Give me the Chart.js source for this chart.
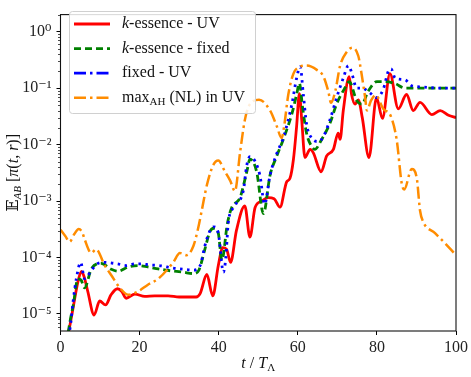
<!DOCTYPE html>
<html>
<head>
<meta charset="utf-8">
<script src="https://cdn.jsdelivr.net/npm/chart.js@4.4.1/dist/chart.umd.min.js"></script>
<style>
  body { margin: 0; background: #fff; }
  canvas { display: block; }
</style>
</head>
<body>
<canvas id="chart" width="471" height="377"></canvas>
<script>
// values (t / T_Lambda, E_AB)
const kUvTime = [1.5, 2.5, 3.2, 4.4, 5.3, 6.0, 6.9, 8.5, 9.9, 11.4, 12.8, 14.4, 15.5, 16.6, 18.8, 21.3, 23.8, 27.2, 30, 34.3, 35.3, 37, 38.5, 39.9, 41, 42, 43, 44.5, 46.6, 47.9, 49.2, 50.9, 52.5, 54, 55.5, 57.2, 58.0, 58.9, 59.7, 60.4, 61.0, 61.8, 63.1, 63.9, 65.9, 67.3, 69.0, 70.2, 70.7, 71.5, 73.0, 73.6, 74.5, 75.3, 76.3, 78.0, 79.9, 81.4, 83.3, 85.4, 87.5, 89.2, 90.9, 93.9, 96.0, 98.1, 100];
const kUvValue = [3e-6, 7e-6, 1.3e-5, 3.7e-5, 5.7e-5, 4.5e-5, 2.5e-5, 9.6e-6, 1.7e-5, 1.45e-5, 2.2e-5, 2.8e-5, 2.5e-5, 1.9e-5, 2.25e-5, 2.05e-5, 2.1e-5, 2.1e-5, 2.0e-5, 2.0e-5, 2.3e-5, 5e-5, 2.1e-5, 7.2e-5, 1.5e-4, 1.4e-4, 8.2e-5, 3.05e-4, 8.2e-4, 2.3e-4, 7.7e-4, 1.0e-3, 1.15e-3, 1.1e-3, 7.8e-4, 2.2e-3, 2.5e-3, 5.5e-3, 0.021, 0.08, 0.027, 5.9e-3, 8.2e-3, 7.2e-3, 3.3e-3, 6.3e-3, 8.2e-3, 0.016, 0.0124, 0.04, 0.16, 0.077, 0.052, 0.062, 0.03, 5.9e-3, 0.068, 0.029, 0.18, 0.043, 0.077, 0.04, 0.056, 0.034, 0.04, 0.033, 0.03];

const kFixedTime = [1.5, 2.5, 3.2, 4.4, 5.2, 6.1, 7.8, 10.3, 12.8, 14.5, 17.1, 19.6, 22.1, 24.7, 27.2, 31, 33.6, 35, 36.5, 37.8, 38.8, 39.9, 40.8, 42.2, 43.3, 45.4, 47.1, 47.9, 49.6, 51.3, 53, 54.7, 56.3, 58.5, 59.7, 60.4, 61.2, 62.2, 63.5, 64.3, 66, 68.1, 69.8, 71.9, 73, 74.9, 76.2, 77.8, 80, 82, 84.6, 87.1, 91.3, 100];
const kFixedValue = [3e-6, 8e-6, 1.4e-5, 4.2e-5, 4.0e-5, 2.9e-5, 6.3e-5, 7.9e-5, 6.2e-5, 5.7e-5, 6.8e-5, 7.2e-5, 6.8e-5, 6.3e-5, 5.9e-5, 5.5e-5, 5.2e-5, 6e-5, 1.4e-4, 2.9e-4, 3.3e-4, 2.7e-4, 9e-5, 4e-4, 7.7e-4, 1.15e-3, 3.3e-3, 5.5e-3, 3.3e-3, 6e-4, 2.9e-3, 6.3e-3, 0.0122, 0.035, 0.077, 0.122, 0.046, 0.016, 9.3e-3, 8.2e-3, 0.0122, 0.0235, 0.052, 0.1, 0.13, 0.06, 0.052, 0.088, 0.13, 0.13, 0.12, 0.1, 0.1, 0.1];

const fixedUvTime = [1.8, 2.6, 3.2, 4.0, 5.1, 6.1, 7.8, 9.3, 11.2, 14.4, 16.6, 18.8, 20.6, 22.5, 25, 28.5, 31, 33.6, 35.3, 36.5, 37.8, 38.8, 39.9, 41.2, 41.8, 42.4, 43.7, 46.2, 47.1, 47.9, 50.4, 51.6, 53, 54.7, 56.3, 58.5, 59.7, 60.6, 61.4, 62.2, 63.5, 65.2, 66.5, 68.1, 69.8, 71.5, 72.8, 73.6, 74.9, 76.2, 78, 79.9, 81.6, 82.9, 83.6, 84.6, 87.1, 88.8, 91.3, 95.5, 100];
const fixedUvValue = [3e-6, 7e-6, 1.7e-5, 4.2e-5, 8.2e-5, 4.2e-5, 5.9e-5, 7.7e-5, 8.2e-5, 7.7e-5, 7.2e-5, 7.7e-5, 7.7e-5, 7.4e-5, 7.2e-5, 6.5e-5, 6.2e-5, 6e-5, 7.2e-5, 1.6e-4, 3e-4, 3.5e-4, 2.7e-4, 5.5e-5, 1e-4, 4e-4, 7.7e-4, 1.5e-3, 4.3e-3, 6.1e-3, 2.9e-3, 8.8e-4, 2.9e-3, 7e-3, 0.013, 0.052, 0.15, 0.24, 0.077, 0.0235, 0.013, 0.0113, 0.014, 0.027, 0.067, 0.15, 0.25, 0.19, 0.1, 0.1, 0.085, 0.068, 0.095, 0.2, 0.22, 0.15, 0.14, 0.11, 0.105, 0.1, 0.1];

const maxAhTime = [0, 1.2, 2.3, 3.5, 4.6, 5.5, 6.1, 7.8, 9, 11.2, 12.8, 15, 17.1, 19.6, 22.1, 24.7, 28.5, 30.2, 31.9, 33.6, 34.8, 35.7, 37, 38.6, 39.9, 41.6, 42.9, 44.1, 45.4, 46.6, 47.9, 50.2, 53, 54.7, 55.9, 56.5, 57.6, 58.9, 60.6, 62.2, 64.8, 66.5, 67.7, 68.4, 69.5, 70.7, 72.4, 73.8, 75.3, 76.2, 77, 77.5, 78.5, 79.7, 81.6, 83.5, 85, 86.3, 86.9, 88.8, 90.1, 90.9, 91.7, 94.7, 97.2, 99.5];
const maxAhValue = [3.1e-4, 2.4e-4, 1.9e-4, 2.6e-4, 3.2e-4, 2.8e-4, 2.1e-4, 1.2e-4, 1.4e-4, 7.2e-5, 4.9e-5, 2.9e-5, 2.2e-5, 2.5e-5, 3.3e-5, 4.2e-5, 8.2e-5, 1.2e-4, 1.1e-4, 1.6e-4, 3.3e-4, 6.7e-4, 1.9e-3, 4.3e-3, 5.2e-3, 3.3e-3, 2.3e-3, 1.5e-3, 7.2e-3, 0.027, 0.052, 0.062, 0.04, 0.021, 0.013, 0.02, 0.077, 0.18, 0.24, 0.25, 0.21, 0.16, 0.088, 0.055, 0.09, 0.25, 0.44, 0.52, 0.37, 0.165, 0.07, 0.04, 0.06, 0.075, 0.043, 0.032, 0.0122, 2e-3, 1.6e-3, 3.7e-3, 2.5e-3, 6.8e-4, 4.3e-4, 2.7e-4, 1.8e-4, 1.2e-4];

const xTicks = [0, 20, 40, 60, 80, 100];
const yTicks = [1e-5, 1e-4, 1e-3, 1e-2, 1e-1, 1];

const SERIF = '"Liberation Serif", "DejaVu Serif", serif';
const SUP = { '-': '\u207B', '0': '\u2070', '1': '\u00B9', '2': '\u00B2', '3': '\u00B3', '4': '\u2074', '5': '\u2075', '6': '\u2076', '7': '\u2077', '8': '\u2078', '9': '\u2079' };

function toPoints(ts, vs) {
    return ts.map((t, i) => ({ x: t, y: vs[i] }));
}

function powLabel(v) {
    const e = String(Math.round(Math.log10(v)));
    return '10' + e.split('').map(c => SUP[c]).join('');
}

// draws a run of text pieces with different fonts one after the other
function drawParts(ctx, parts, x, y, align) {
    let total = 0;
    parts.forEach(p => {
        ctx.font = p.font;
        p.w = ctx.measureText(p.text).width;
        total += p.w;
    });
    let cx = align === 'center' ? x - total / 2 : x;
    parts.forEach(p => {
        ctx.font = p.font;
        ctx.fillText(p.text, cx, y + (p.dy || 0));
        cx += p.w;
    });
}

const rm = '16px ' + SERIF;
const it = 'italic 16px ' + SERIF;
const sub = '11px ' + SERIF;
const subIt = 'italic 11px ' + SERIF;

const legendLabels = [
    [{ text: 'k', font: it }, { text: '-essence - UV', font: rm }],
    [{ text: 'k', font: it }, { text: '-essence - fixed', font: rm }],
    [{ text: 'fixed - UV', font: rm }],
    [{ text: 'max', font: rm }, { text: 'AH', font: sub, dy: 4 }, { text: ' (NL) in UV', font: rm }]
];
const legendDash = [[], [7, 4], [12, 4, 2.5, 4], [12, 4, 2.5, 4]];

const decorPlugin = {
    id: 'decor',
    afterDatasetsDraw(chart) {
        const ctx = chart.ctx;
        const a = chart.chartArea;
        const y = chart.scales.y;
        ctx.save();
        // minor log ticks
        ctx.strokeStyle = '#000';
        ctx.lineWidth = 0.7;
        for (let n = -6; n <= 0; n++) {
            for (let k = 2; k <= 9; k++) {
                const v = k * Math.pow(10, n);
                if (v < y.min || v > y.max) continue;
                const py = Math.round(y.getPixelForValue(v)) + 0.5;
                ctx.beginPath();
                ctx.moveTo(a.left - 2.5, py);
                ctx.lineTo(a.left, py);
                ctx.stroke();
            }
        }
        // frame
        ctx.strokeStyle = '#111';
        ctx.lineWidth = 1.1;
        ctx.strokeRect(a.left, a.top, a.right - a.left, a.bottom - a.top);

        // axis titles
        ctx.fillStyle = '#111';
        ctx.textBaseline = 'alphabetic';
        drawParts(ctx, [
            { text: 't', font: it },
            { text: ' / ', font: rm },
            { text: 'T', font: it },
            { text: '\u039B', font: sub, dy: 3 }
        ], (a.left + a.right) / 2, 368, 'center');

        ctx.save();
        ctx.translate(18, (a.top + a.bottom) / 2);
        ctx.rotate(-Math.PI / 2);
        drawParts(ctx, [
            { text: '\uD835\uDD3C', font: rm },
            { text: 'AB', font: subIt, dy: 3 },
            { text: ' [', font: rm },
            { text: '\u03C0', font: it },
            { text: '(', font: rm },
            { text: 't', font: it },
            { text: ', ', font: rm },
            { text: 'r', font: it },
            { text: ')]', font: rm }
        ], 0, 0, 'center');
        ctx.restore();

        // legend
        const bx = 69, by = 11, bw = 186, bh = 102;
        ctx.beginPath();
        ctx.roundRect(bx + 0.5, by + 0.5, bw, bh, 3);
        ctx.fillStyle = 'rgba(255,255,255,0.85)';
        ctx.fill();
        ctx.strokeStyle = '#d0d0d0';
        ctx.lineWidth = 1;
        ctx.stroke();

        chart.data.datasets.forEach((ds, i) => {
            const ry = 24 + i * 24.6;
            ctx.beginPath();
            ctx.setLineDash(legendDash[i]);
            ctx.strokeStyle = ds.borderColor;
            ctx.lineWidth = ds.borderWidth;
            ctx.moveTo(74, ry);
            ctx.lineTo(110, ry);
            ctx.stroke();
            ctx.setLineDash([]);
            ctx.fillStyle = '#111';
            ctx.textBaseline = 'middle';
            drawParts(ctx, legendLabels[i], 122, ry, 'left');
        });
        ctx.restore();
    }
};

const ctx = document.getElementById('chart').getContext('2d');
new Chart(ctx, {
    type: 'line',
    data: {
        datasets: [
            {
                label: 'k-essence - UV',
                data: toPoints(kUvTime, kUvValue),
                borderColor: '#ff0000',
                borderWidth: 2.8,
                order: 3
            },
            {
                label: 'k-essence - fixed',
                data: toPoints(kFixedTime, kFixedValue),
                borderColor: '#008000',
                borderWidth: 2.8,
                borderDash: [7, 4],
                order: 2
            },
            {
                label: 'fixed - UV',
                data: toPoints(fixedUvTime, fixedUvValue),
                borderColor: '#0000ff',
                borderWidth: 2.8,
                borderDash: [2.5, 4.5],
                order: 1
            },
            {
                label: 'max_AH (NL) in UV',
                data: toPoints(maxAhTime, maxAhValue),
                borderColor: '#ff8c00',
                borderWidth: 2.5,
                borderDash: [12, 4, 2.5, 4],
                order: 0
            }
        ]
    },
    options: {
        responsive: false,
        animation: false,
        layout: { padding: { left: 0, right: 15, top: 3, bottom: 0 } },
        elements: {
            point: { radius: 0 },
            line: { cubicInterpolationMode: 'monotone', fill: false }
        },
        plugins: {
            legend: { display: false },
            tooltip: { enabled: false }
        },
        scales: {
            x: {
                type: 'linear',
                min: 0,
                max: 100,
                afterBuildTicks: s => { s.ticks = xTicks.map(v => ({ value: v })); },
                afterFit: s => { s.height = 46; },
                grid: { drawOnChartArea: false, tickLength: 4, tickColor: '#000', tickWidth: 1 },
                border: { display: false },
                ticks: { color: '#222', font: { family: SERIF, size: 16 }, padding: 3, maxRotation: 0 }
            },
            y: {
                type: 'logarithmic',
                min: 5e-6,
                max: 2,
                afterBuildTicks: s => { s.ticks = yTicks.map(v => ({ value: v })); },
                afterFit: s => { s.width = 60.5; },
                grid: { drawOnChartArea: false, tickLength: 4, tickColor: '#000', tickWidth: 1 },
                border: { display: false },
                ticks: { color: '#222', font: { family: SERIF, size: 16 }, padding: 5, callback: v => powLabel(v) }
            }
        }
    },
    plugins: [decorPlugin]
});
</script>
</body>
</html>
